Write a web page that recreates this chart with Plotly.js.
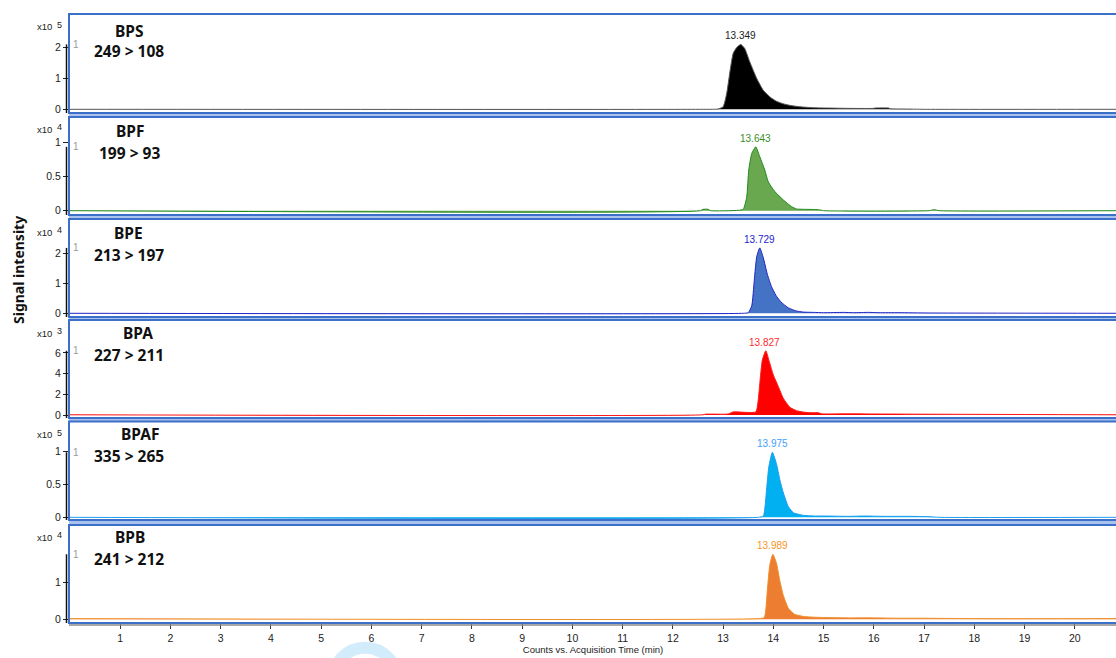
<!DOCTYPE html>
<html><head><meta charset="utf-8">
<script src="https://cdn.plot.ly/plotly-3.0.1.min.js"></script>
<style>html,body{margin:0;padding:0;background:#fff;} #chart{width:1116px;height:658px;}</style>
</head><body><div id="chart"></div>
<script>
// ---------- data ----------
const compounds = ['BPS', 'BPF', 'BPE', 'BPA', 'BPAF', 'BPB'];
const transitions = ['249 > 108', '199 > 93', '213 > 197', '227 > 211', '335 > 265', '241 > 212'];
const retentionTimes = [13.349, 13.643, 13.729, 13.827, 13.975, 13.989];
const exponents = [5, 4, 4, 3, 5, 4];
const timeTicks = [1, 2, 3, 4, 5, 6, 7, 8, 9, 10, 11, 12, 13, 14, 15, 16, 17, 18, 19, 20];
const yTicks = [[0, 1, 2], [0, 0.5, 1], [0, 1, 2], [0, 2, 4, 6], [0, 0.5, 1], [0, 1]];

const bpsTime   = [0, 12.5, 12.9, 13.0, 13.07, 13.14, 13.2, 13.27, 13.35, 13.43, 13.53, 13.67, 13.8, 13.93, 14.05, 14.19, 14.35, 14.53, 14.8, 15.1, 15.5, 16.0, 16.02, 16.3, 16.32, 16.6, 17.0, 20.85];
const bpsSignal = [0, 0, 0.01, 0.08, 0.5, 1.26, 1.8, 1.99, 2.09, 1.96, 1.53, 0.99, 0.61, 0.40, 0.27, 0.18, 0.12, 0.08, 0.05, 0.04, 0.03, 0.03, 0.04, 0.04, 0.02, 0.01, 0, 0];

const bpfTime   = [0, 12.55, 12.6, 12.7, 12.75, 13.3, 13.4, 13.47, 13.51, 13.57, 13.65, 13.73, 13.83, 13.9, 14.03, 14.2, 14.36, 14.46, 14.6, 14.9, 15.0, 17.1, 17.2, 17.3, 20.85];
const bpfSignal = [0, 0, 0.02, 0.02, 0, 0.005, 0.02, 0.2, 0.595, 0.84, 0.936, 0.79, 0.595, 0.42, 0.28, 0.156, 0.06, 0.025, 0.02, 0.015, 0, 0, 0.015, 0, 0];

const bpeTime   = [0, 13.4, 13.5, 13.57, 13.62, 13.67, 13.73, 13.8, 13.88, 13.96, 14.05, 14.15, 14.3, 14.45, 14.6, 14.8, 15.0, 15.4, 15.6, 15.9, 16.1, 16.5, 17.1, 20.85];
const bpeSignal = [0, 0, 0.02, 0.25, 1.1, 1.9, 2.18, 1.85, 1.3, 0.9, 0.6, 0.38, 0.18, 0.08, 0.04, 0.03, 0.02, 0.03, 0.02, 0.03, 0.02, 0.02, 0.01, 0];

const bpaTime   = [0, 12.6, 12.65, 13.1, 13.2, 13.65, 13.7, 13.73, 13.78, 13.85, 13.92, 14.0, 14.1, 14.2, 14.33, 14.46, 14.6, 14.73, 14.9, 14.95, 15.5, 16.0, 17.0, 20.85];
const bpaSignal = [0.02, 0.02, 0.08, 0.1, 0.3, 0.3, 1.5, 3.06, 5.3, 6.21, 5.15, 3.86, 2.74, 1.6, 0.74, 0.42, 0.28, 0.22, 0.22, 0.12, 0.12, 0.1, 0.08, 0.02];

const bpafTime   = [0, 13.7, 13.8, 13.87, 13.91, 13.98, 14.06, 14.13, 14.2, 14.3, 14.4, 14.6, 14.8, 15.0, 15.5, 15.8, 16.2, 16.7, 17.1, 17.3, 20.85];
const bpafSignal = [0, 0, 0.02, 0.47, 0.77, 0.99, 0.82, 0.57, 0.37, 0.16, 0.07, 0.03, 0.02, 0.02, 0.015, 0.02, 0.015, 0.015, 0.01, 0, 0];

const bpbTime   = [0, 13.7, 13.82, 13.88, 13.93, 13.99, 14.06, 14.13, 14.2, 14.3, 14.42, 14.6, 14.8, 15.0, 15.5, 16.0, 16.5, 17.0, 18.0, 20.85];
const bpbSignal = [0.02, 0.02, 0.05, 0.8, 1.5, 1.78, 1.55, 1.05, 0.65, 0.3, 0.14, 0.08, 0.06, 0.05, 0.04, 0.04, 0.03, 0.03, 0.02, 0.02];

const times = [bpsTime, bpfTime, bpeTime, bpaTime, bpafTime, bpbTime];
const signals = [bpsSignal, bpfSignal, bpeSignal, bpaSignal, bpafSignal, bpbSignal];

// ---------- styling ----------
const fillColors = ['#000000', '#6aa84f', '#4472c4', '#ff0000', '#00b0f0', '#ed7d31'];
const lineColors = ['#555555', '#1e8c1e', '#2323c8', '#ff1a1a', '#1c9df0', '#f0902a'];
const labelColors = ['#222222', '#3a8e28', '#2424cc', '#ff2a2a', '#3fa0ff', '#f7941d'];
const domains = [[0.8374, 1.0], [0.670, 0.8309], [0.5025, 0.6634], [0.3366, 0.4975], [0.1691, 0.3309], [0, 0.1609]];
const ranges = [[-0.12, 3.07], [-0.063, 1.374], [-0.123, 3.143], [-0.29, 9.18], [-0.041, 1.46], [-0.10, 2.58]];
const namePix = [31, 131, 233, 333, 434, 537];
const transPix = [51, 153, 255, 355, 456, 559];
const nameX = [129, 130, 128, 138, 140, 130];
const expPix = [27, 129, 232, 333, 435, 537];

const L = 70, T = 14, PH = 609, PW = 1046;
const px2fx = p => (p - L) / PW;
const px2fy = p => (T + PH - p) / PH;

const traces = [];
const annotations = [];
const shapes = [];
const layout = {
  width: 1116, height: 658,
  margin: {l: L, r: 0, t: T, b: 35},
  paper_bgcolor: '#ffffff', plot_bgcolor: '#ffffff',
  font: {family: 'Liberation Sans, Arial, sans-serif', color: '#222'},
  showlegend: false,
  xaxis: {
    range: [0, 20.82], anchor: 'y6', tickmode: 'array', tickvals: timeTicks,
    ticktext: timeTicks.map(String),
    ticks: 'outside', ticklen: 5, tickcolor: '#333', tickwidth: 1,
    tickfont: {size: 10.5, color: '#222'},
    showgrid: false, zeroline: false, showline: false,
    title: {text: 'Counts vs. Acquisition Time (min)', font: {size: 9.5, color: '#222'}, standoff: 2}
  }
};

for (let i = 0; i < 6; i++) {
  const yid = i === 0 ? 'y' : 'y' + (i + 1);
  const yname = i === 0 ? 'yaxis' : 'yaxis' + (i + 1);
  traces.push({
    x: times[i], y: signals[i], xaxis: 'x', yaxis: yid,
    type: 'scatter', mode: 'lines', fill: 'tozeroy',
    fillcolor: fillColors[i],
    line: {color: lineColors[i], width: 1, shape: 'spline', smoothing: 0.5},
    hoverinfo: 'x+y'
  });
  layout[yname] = {
    domain: domains[i], range: ranges[i], anchor: 'x',
    tickmode: 'array', tickvals: yTicks[i], ticktext: yTicks[i].map(String),
    ticks: 'outside', ticklen: 6, tickcolor: '#222', tickwidth: 1,
    tickfont: {size: 10.5, color: '#222'},
    showgrid: false, zeroline: false, showline: false
  };
  const apex = Math.max(...signals[i]);
  annotations.push({
    x: retentionTimes[i], y: apex, xref: 'x', yref: yid,
    text: retentionTimes[i].toFixed(3), showarrow: false,
    xanchor: 'center', yanchor: 'bottom', yshift: 1,
    font: {size: 10, color: labelColors[i]}
  });
  annotations.push({
    x: px2fx(75.5), y: apex, xref: 'paper', yref: yid,
    text: '1', showarrow: false, xanchor: 'center', yanchor: 'middle',
    font: {size: 10, color: '#9a9a9a'}
  });
  annotations.push({
    x: px2fx(nameX[i]), y: px2fy(namePix[i]), xref: 'paper', yref: 'paper',
    text: '<b>' + compounds[i] + '</b>', showarrow: false,
    xanchor: 'center', yanchor: 'middle',
    font: {size: 15.5, color: '#111', family: 'Noto Sans, sans-serif'}
  });
  annotations.push({
    x: px2fx(129), y: px2fy(transPix[i]), xref: 'paper', yref: 'paper',
    text: '<b>' + transitions[i] + '</b>', showarrow: false,
    xanchor: 'center', yanchor: 'middle',
    font: {size: 15.5, color: '#111', family: 'Noto Sans, sans-serif'}
  });
  annotations.push({
    x: px2fx(54), y: px2fy(expPix[i]), xref: 'paper', yref: 'paper',
    text: 'x10', showarrow: false, xanchor: 'right', yanchor: 'middle',
    font: {size: 9.5, color: '#222'}
  });
  annotations.push({
    x: px2fx(54.5), y: px2fy(expPix[i] - 2), xref: 'paper', yref: 'paper',
    text: String(exponents[i]), showarrow: false, xanchor: 'left', yanchor: 'middle',
    font: {size: 9, color: '#222'}
  });
  shapes.push({
    type: 'line', xref: 'paper', yref: yid,
    x0: px2fx(66.5), x1: px2fx(66.5), y0: ranges[i][0], y1: apex,
    line: {color: '#111', width: 1.5}, layer: 'above'
  });
  shapes.push({
    type: 'rect', xref: 'paper', yref: 'paper',
    x0: px2fx(69), x1: 1.02, y0: domains[i][0], y1: domains[i][1],
    line: {color: '#3b6fc8', width: 2}, layer: 'above'
  });
  if (i < 5) {
    shapes.push({
      type: 'rect', xref: 'paper', yref: 'paper',
      x0: px2fx(69), x1: 1.02, y0: domains[i + 1][1], y1: domains[i][0],
      line: {width: 0}, fillcolor: '#a9c3ee', layer: 'below'
    });
  }
}

annotations.push({
  x: px2fx(18), y: px2fy(270), xref: 'paper', yref: 'paper',
  text: '<b>Signal intensity</b>', textangle: -90, showarrow: false,
  xanchor: 'center', yanchor: 'middle',
  font: {size: 14, color: '#111', family: 'Noto Sans, sans-serif'}
});

shapes.push({
  type: 'line', xref: 'paper', yref: 'paper',
  x0: px2fx(69), x1: 1.02, y0: px2fy(625), y1: px2fy(625),
  line: {color: '#8a8a8a', width: 1.5}, layer: 'above'
});

shapes.push({
  type: 'circle', xref: 'paper', yref: 'paper',
  x0: px2fx(333), x1: px2fx(397), y0: px2fy(711.7), y1: px2fy(647.7),
  line: {color: '#d3ecfc', width: 12}, layer: 'below'
});

layout.annotations = annotations;
layout.shapes = shapes;

Plotly.newPlot('chart', traces, layout, {displayModeBar: false, staticPlot: true});
</script>
</body></html>
